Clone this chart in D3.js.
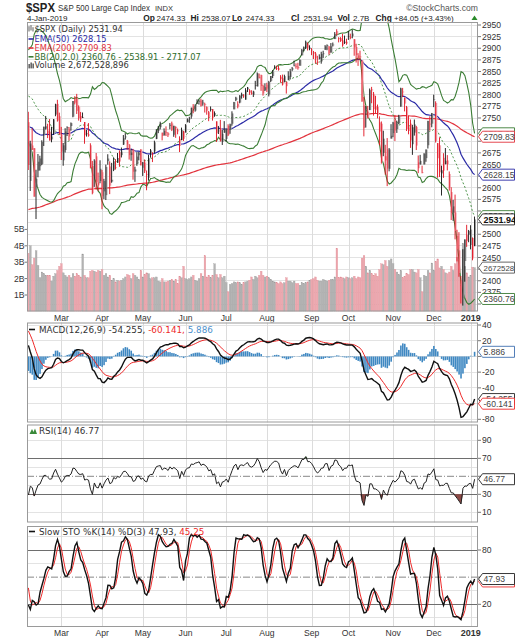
<!DOCTYPE html>
<html><head><meta charset="utf-8"><title>$SPX</title>
<script src="https://cdn.jsdelivr.net/npm/d3@7/dist/d3.min.js"></script>
<style>html,body{margin:0;padding:0;background:#fff}svg{display:block}</style>
</head><body>
<svg id="chart" width="515" height="640"></svg>
<script>
// ---------------- DATA ----------------
const tradingMonths = ["2018-02","2018-03","2018-04","2018-05","2018-06","2018-07","2018-08","2018-09","2018-10","2018-11","2018-12","2019-01"];
const tradingDays = [
 [5,6,7,8,9,12,13,14,15,16,20,21,22,23,26,27,28],
 [1,2,5,6,7,8,9,12,13,14,15,16,19,20,21,22,23,26,27,28,29],
 [2,3,4,5,6,9,10,11,12,13,16,17,18,19,20,23,24,25,26,27,30],
 [1,2,3,4,7,8,9,10,11,14,15,16,17,18,21,22,23,24,25,29,30,31],
 [1,4,5,6,7,8,11,12,13,14,15,18,19,20,21,22,25,26,27,28,29],
 [2,3,5,6,9,10,11,12,13,16,17,18,19,20,23,24,25,26,27,30,31],
 [1,2,3,6,7,8,9,10,13,14,15,16,17,20,21,22,23,24,27,28,29,30,31],
 [4,5,6,7,10,11,12,13,14,17,18,19,20,21,24,25,26,27,28],
 [1,2,3,4,5,8,9,10,11,12,15,16,17,18,19,22,23,24,25,26,29,30,31],
 [1,2,5,6,7,8,9,12,13,14,15,16,19,20,21,23,26,27,28,29,30],
 [3,4,6,7,10,11,12,13,14,17,18,19,20,21,24,26,27,28,31],
 [2,3,4]
];
const monthLabels = ["Mar","Apr","May","Jun","Jul","Aug","Sep","Oct","Nov","Dec","2019"];

const open = [
2741.06,2614.78,2690.95,2685.01,2601.78,2636.75,2646.27,2651.21,2713.46,2727.14,2722.99,2720.53,2710.42,2715.80,2757.37,2780.45,2753.78,
2715.22,2658.89,2681.06,2730.18,2710.18,2732.75,2752.91,2790.54,2792.31,2774.06,2754.27,2750.57,2741.38,2715.05,2714.99,2691.36,2646.71,2619.35,2667.57,2611.30,2614.41,
2633.45,2592.17,2584.04,2657.36,2645.82,2617.18,2638.41,2643.89,2653.83,2676.90,2670.10,2692.74,2710.11,2701.16,2692.56,2675.40,2680.80,2634.92,2651.65,2675.47,2682.51,
2642.96,2654.24,2628.08,2621.45,2680.34,2670.26,2678.12,2705.02,2722.70,2738.47,2718.59,2712.62,2719.71,2717.35,2735.39,2738.34,2713.98,2730.94,2723.60,2705.11,2702.43,2720.98,
2718.70,2741.67,2748.46,2753.25,2774.84,2765.84,2780.18,2785.60,2787.94,2783.21,2777.78,2765.79,2752.01,2769.73,2769.28,2760.79,2742.94,2722.12,2728.45,2698.69,2727.13,
2704.95,2733.27,2724.19,2737.68,2768.51,2788.56,2779.82,2783.14,2796.93,2797.36,2789.34,2811.35,2809.37,2804.55,2799.17,2820.68,2817.73,2835.49,2842.35,2819.00,2809.73,
2821.17,2800.48,2829.62,2840.29,2855.92,2856.79,2857.19,2838.90,2835.46,2827.88,2827.95,2831.44,2838.32,2853.93,2861.51,2860.99,2860.29,2862.35,2884.69,2901.45,2900.62,2908.94,2898.37,
2896.96,2891.59,2888.64,2868.26,2881.39,2871.57,2888.29,2896.85,2906.38,2903.83,2890.74,2906.60,2919.73,2936.76,2921.83,2921.75,2916.98,2911.65,2910.03,
2926.29,2923.80,2931.69,2919.35,2902.54,2877.53,2882.51,2873.90,2776.87,2770.54,2763.83,2767.05,2811.67,2802.00,2775.66,2773.94,2721.03,2737.87,2674.88,2667.86,2682.65,2640.68,2705.60,
2717.58,2745.45,2726.37,2738.40,2774.13,2806.38,2794.10,2773.93,2730.05,2737.90,2693.52,2718.54,2730.74,2654.60,2657.74,2633.36,2649.97,2663.75,2691.45,2736.97,2737.76,
2790.50,2782.43,2663.51,2691.26,2630.86,2664.44,2658.23,2658.70,2629.68,2590.75,2559.90,2547.05,2496.77,2465.38,2400.56,2363.12,2442.50,2498.77,2498.94,
2476.96,2491.92,2474.33];
const high = [
2763.39,2701.04,2727.67,2685.27,2638.67,2672.61,2668.84,2702.10,2731.51,2754.42,2737.60,2747.75,2731.26,2747.76,2780.64,2789.15,2761.52,
2730.89,2696.25,2728.09,2732.08,2730.60,2740.45,2786.57,2796.98,2801.90,2777.11,2763.03,2761.85,2741.38,2724.22,2739.14,2695.68,2657.67,2661.36,2674.78,2632.65,2659.07,
2638.30,2619.14,2649.86,2672.08,2656.88,2653.55,2665.45,2661.43,2674.72,2680.26,2686.49,2713.34,2717.49,2702.84,2693.94,2682.86,2683.55,2645.30,2676.48,2677.35,2682.87,
2655.27,2660.87,2637.14,2670.93,2683.35,2676.34,2701.27,2726.11,2732.86,2742.10,2718.59,2727.76,2731.96,2719.50,2739.19,2742.24,2733.33,2731.97,2727.36,2710.67,2729.34,2722.50,
2736.93,2749.16,2752.61,2772.39,2779.90,2779.39,2790.21,2789.80,2791.47,2789.06,2782.81,2774.99,2765.05,2774.86,2769.28,2764.17,2742.94,2732.91,2746.09,2724.34,2743.26,
2727.26,2736.58,2737.83,2764.41,2784.65,2795.58,2785.91,2799.22,2804.53,2801.19,2814.19,2816.76,2812.05,2809.70,2808.61,2829.99,2848.03,2845.57,2843.17,2821.74,2824.46,
2825.83,2829.91,2840.38,2853.29,2863.43,2862.44,2862.48,2842.20,2843.40,2843.11,2827.95,2850.49,2855.63,2859.76,2873.23,2867.54,2868.78,2876.16,2898.25,2903.77,2916.50,2912.46,2906.32,
2900.18,2894.21,2892.05,2883.81,2886.93,2892.52,2894.65,2906.76,2908.30,2904.65,2911.17,2912.36,2934.80,2940.91,2923.79,2923.95,2931.15,2927.22,2920.53,
2937.06,2931.42,2939.86,2919.78,2909.64,2889.45,2894.83,2874.02,2795.14,2775.77,2775.99,2813.46,2816.94,2806.04,2797.77,2778.94,2753.59,2742.59,2722.70,2692.38,2706.85,2685.43,2736.69,
2741.67,2756.55,2744.27,2756.82,2815.15,2814.75,2794.10,2775.99,2754.60,2746.80,2735.38,2746.75,2733.16,2669.44,2670.73,2647.55,2674.35,2682.53,2744.00,2753.75,2760.88,
2800.18,2785.93,2696.15,2708.54,2647.51,2674.35,2685.44,2670.19,2635.07,2601.13,2573.99,2585.29,2509.63,2504.41,2410.34,2467.76,2489.10,2520.27,2509.24,
2519.49,2493.14,2538.07];
const low = [
2638.17,2593.07,2681.33,2580.56,2532.69,2622.45,2637.08,2648.87,2689.82,2725.11,2706.76,2701.29,2697.77,2713.74,2753.78,2742.19,2713.54,
2659.65,2647.32,2675.75,2711.26,2701.74,2722.65,2751.54,2779.26,2758.68,2744.38,2741.47,2749.97,2694.59,2710.05,2709.79,2641.59,2585.89,2601.81,2596.12,2593.06,2609.72,
2553.80,2575.49,2573.61,2649.58,2586.27,2610.79,2635.78,2639.25,2653.83,2645.05,2665.16,2692.05,2703.63,2681.90,2660.61,2657.99,2617.32,2612.67,2647.16,2659.01,2648.04,
2625.41,2631.70,2594.62,2615.32,2664.70,2655.20,2674.14,2704.54,2717.45,2725.47,2701.91,2712.17,2711.36,2709.18,2725.70,2721.88,2709.54,2707.38,2714.99,2676.81,2702.43,2700.68,
2718.70,2740.54,2739.51,2748.46,2760.16,2763.59,2780.17,2778.78,2774.65,2776.52,2761.73,2757.12,2743.19,2763.91,2744.39,2752.68,2698.67,2715.60,2699.38,2691.99,2718.03,
2698.95,2711.16,2716.02,2733.52,2768.51,2786.24,2770.77,2781.53,2791.69,2793.39,2789.24,2805.89,2799.77,2800.01,2795.14,2811.12,2817.73,2835.26,2808.34,2798.11,2808.06,
2805.85,2796.34,2827.37,2835.98,2855.92,2853.09,2851.98,2825.81,2819.88,2826.58,2802.49,2831.44,2833.73,2850.62,2861.32,2856.05,2854.03,2862.35,2884.69,2893.50,2898.40,2895.22,2895.77,
2885.13,2876.92,2867.29,2864.12,2875.94,2866.78,2879.20,2896.39,2895.77,2886.16,2890.43,2903.82,2919.73,2927.11,2912.63,2913.70,2903.28,2909.27,2907.50,
2917.91,2919.37,2921.36,2883.92,2869.29,2862.08,2874.27,2784.86,2710.51,2729.44,2749.03,2766.91,2781.81,2755.18,2760.27,2749.22,2691.43,2651.89,2667.84,2628.16,2603.54,2635.34,2705.60,
2708.85,2700.44,2717.94,2737.08,2774.13,2794.99,2764.24,2722.00,2714.98,2685.75,2670.75,2712.16,2681.09,2631.52,2649.82,2631.09,2649.97,2655.89,2684.38,2722.94,2730.05,
2773.38,2697.18,2621.53,2623.14,2583.23,2621.30,2650.26,2637.27,2593.84,2530.54,2528.71,2488.96,2441.53,2408.55,2351.10,2346.58,2397.94,2472.89,2482.82,
2467.47,2443.96,2474.33];
const close = [
2648.94,2695.14,2681.66,2581.00,2619.55,2656.00,2662.94,2698.63,2731.20,2732.22,2716.26,2701.33,2703.96,2747.30,2779.60,2744.28,2713.83,
2677.67,2691.25,2720.94,2728.12,2726.80,2738.97,2786.57,2783.02,2765.31,2749.48,2747.33,2752.01,2712.92,2716.94,2711.93,2643.69,2588.26,2658.55,2612.62,2605.00,2640.87,
2581.88,2614.45,2644.69,2662.84,2604.47,2613.16,2656.87,2642.19,2663.99,2656.30,2677.84,2706.39,2708.64,2693.13,2670.14,2670.29,2634.56,2639.40,2666.94,2669.91,2648.05,
2654.80,2635.67,2629.73,2663.42,2672.63,2671.92,2697.79,2723.07,2727.72,2730.13,2711.45,2722.46,2720.13,2712.97,2733.01,2724.44,2733.29,2727.76,2721.33,2689.86,2724.01,2705.27,
2734.62,2746.87,2748.80,2772.35,2770.37,2779.03,2782.00,2786.85,2775.63,2782.49,2779.66,2773.75,2762.59,2767.32,2749.76,2754.88,2717.07,2723.06,2699.63,2716.31,2718.37,
2726.71,2713.22,2736.61,2759.82,2784.17,2793.84,2774.02,2798.29,2801.31,2798.43,2809.55,2815.62,2804.49,2801.83,2806.98,2820.40,2846.07,2837.44,2818.82,2802.60,2816.29,
2813.36,2827.22,2840.35,2850.40,2858.45,2857.70,2853.58,2833.28,2821.93,2839.96,2818.37,2840.69,2850.13,2857.05,2862.96,2861.82,2856.98,2874.69,2896.74,2897.52,2914.04,2901.13,2901.52,
2896.72,2888.60,2878.05,2871.68,2877.13,2887.89,2888.92,2904.18,2904.98,2888.80,2904.31,2907.95,2930.75,2929.67,2919.37,2915.56,2905.97,2914.00,2913.98,
2924.59,2923.43,2925.51,2901.61,2885.57,2884.43,2880.34,2785.68,2728.37,2767.13,2750.79,2809.92,2809.21,2768.78,2767.78,2755.88,2740.69,2656.10,2705.57,2658.69,2641.25,2682.63,2711.74,
2740.37,2723.06,2738.31,2755.45,2813.89,2806.83,2781.01,2726.22,2722.18,2701.58,2730.20,2736.27,2690.73,2641.89,2649.93,2632.56,2673.45,2682.17,2743.79,2737.80,2760.17,
2790.37,2700.06,2695.95,2633.08,2637.72,2636.78,2651.07,2650.54,2599.95,2545.94,2546.16,2506.96,2467.42,2416.62,2351.10,2467.70,2488.83,2485.74,2506.85,
2510.03,2447.89,2531.94];
// volume, billions of shares
const volumeB = [
3.55,4.0,2.85,3.25,3.7,2.8,2.05,2.4,2.3,2.2,2.2,2.2,1.85,2.15,2.3,2.5,2.75,
2.9,2.35,2.2,2.1,2.2,2.05,2.3,2.15,2.3,2.2,2.1,3.5,2.2,2.05,2.05,2.45,2.5,2.45,2.4,2.5,2.45,
2.55,2.2,2.3,2.1,2.2,1.9,2.0,1.8,1.9,1.85,1.9,2.0,2.1,2.25,2.2,2.0,2.3,2.2,2.1,1.95,2.5,
2.1,2.25,2.35,2.3,2.0,2.05,2.05,2.1,1.85,1.8,2.0,1.8,1.8,1.85,1.9,1.95,1.85,1.95,1.7,2.15,2.05,2.75,
2.0,1.95,2.0,2.1,2.2,1.9,1.85,2.0,2.3,2.15,3.4,2.1,2.2,2.05,2.2,2.9,2.25,2.05,2.25,2.05,2.15,
1.75,1.2,1.65,1.7,1.8,1.75,1.8,1.75,1.65,1.75,1.8,1.85,1.9,2.1,1.95,2.15,2.05,2.2,2.45,2.2,2.1,
2.15,2.05,1.95,1.85,1.8,1.75,1.7,1.8,1.7,1.75,2.05,1.85,1.85,1.75,1.85,1.7,1.7,1.6,1.75,1.7,1.75,1.8,1.9,
1.95,2.0,2.1,1.9,1.85,1.85,1.95,1.9,1.85,1.9,1.95,1.95,2.1,3.85,2.05,2.1,2.05,2.0,2.1,
2.05,2.0,2.05,2.15,2.0,2.1,2.05,3.25,3.4,2.75,2.35,2.5,2.3,2.2,2.3,2.15,2.55,2.9,2.85,3.1,2.75,3.1,3.2,
2.9,2.55,2.4,2.25,2.5,2.05,2.15,2.3,2.25,2.55,2.55,2.4,2.35,2.55,2.05,1.2,2.2,2.15,2.5,2.35,2.95,
2.5,3.05,3.2,2.65,2.75,2.55,2.35,2.3,2.4,2.75,2.5,2.9,3.3,3.1,1.6,4.15,2.75,2.35,2.1,
2.2,2.7,2.67];
// history before the first drawn bar (Dec 1 2017 .. Feb 2 2018), used only to start the indicators
const preClose = [2642.22,2639.44,2629.57,2629.27,2636.98,2651.50,2659.99,2664.11,2662.85,2652.01,2675.81,2690.16,2681.47,2679.25,2684.57,2683.34,2680.50,2682.62,2687.54,2673.61,
 2695.81,2713.06,2723.99,2743.15,2747.71,2751.29,2748.23,2767.56,2786.24,2776.42,2802.56,2798.03,2810.30,2832.97,2839.13,2837.54,2839.25,2872.87,2853.53,2822.43,2823.81,2821.98,2762.13];
const preHigh = [2750.80,2767.56,2787.85,2807.54,2807.04,2805.83,2810.33,2833.03,2842.24,2852.97,2848.56,2872.87,2870.62,2837.75,2839.26,2835.96,2808.92];
const preLow  = [2736.06,2752.78,2769.64,2768.64,2778.38,2792.56,2798.08,2808.12,2830.59,2824.81,2830.94,2846.18,2851.48,2818.27,2813.04,2812.70,2759.97];
const emaStart = {ema50: 2735, ema200: 2552};   // moving-average levels at the left edge

const priceTicks = d3.range(2350, 2951, 25);
const volTicks = [1,2,3,4,5];
const macdTicks = [40,20,0,-20,-40,-60,-80];
const rsiTicks = [90,70,50,30,10];
const stoTicks = [80,50,20];

// ---------------- INDICATORS ----------------
const N = close.length, N0 = preClose.length;
const allC = preClose.concat(close);
function emaFrom(vals, n, seed){ const a=2/(n+1); let e=seed; return vals.map(v=>(e=e+a*(v-e))); }
const ema50 = emaFrom(close, 50, emaStart.ema50);
const ema200 = emaFrom(close, 200, emaStart.ema200);
const e12 = emaFrom(allC, 12, allC[0]), e26 = emaFrom(allC, 26, allC[0]);
const macdAll = e12.map((v,i)=>v-e26[i]);
const sigAll = emaFrom(macdAll, 9, 0);
const macd = macdAll.slice(N0), signal = sigAll.slice(N0), hist = macd.map((v,i)=>v-signal[i]);
const bbMid=[], bbUp=[], bbLo=[];
for(let i=0;i<N;i++){ const w=allC.slice(N0+i-19,N0+i+1); const m=d3.mean(w); const sd=Math.sqrt(d3.mean(w,v=>(v-m)*(v-m))); bbMid.push(m); bbUp.push(m+2*sd); bbLo.push(m-2*sd); }
let ag=0, al=0;
for(let k=1;k<=14;k++){ const d=allC[k]-allC[k-1]; if(d>0) ag+=d; else al-=d; }
ag/=14; al/=14;
const rsiAll=[]; rsiAll[14]=100-100/(1+ag/al);
for(let k=15;k<allC.length;k++){ const d=allC[k]-allC[k-1]; ag=(ag*13+Math.max(d,0))/14; al=(al*13+Math.max(-d,0))/14; rsiAll[k]=100-100/(1+ag/al); }
const rsi = rsiAll.slice(N0);
const K0 = preHigh.length;
const sH = preHigh.concat(high), sL = preLow.concat(low), sC = preClose.slice(N0-K0).concat(close);
const fastK = sC.map((c,j)=>{ if(j<13) return null; const hh=d3.max(sH.slice(j-13,j+1)), ll=d3.min(sL.slice(j-13,j+1)); return (c-ll)/(hh-ll)*100; });
const slowKAll = fastK.map((v,j)=> j<15?null:(fastK[j]+fastK[j-1]+fastK[j-2])/3);
const dAll = slowKAll.map((v,j)=> j<17?null:(slowKAll[j]+slowKAll[j-1]+slowKAll[j-2])/3);
const stoK = slowKAll.slice(K0), stoD = dAll.slice(K0);
const prevClose = close.map((c,i)=> i===0? preClose[N0-1] : close[i-1]);
const up = close.map((c,i)=> c>=prevClose[i]);

const monthStarts=[]; { let idx=0; tradingDays.forEach((m,k)=>{ if(k>0) monthStarts.push(idx); idx+=m.length; }); }

// ---------------- LAYOUT ----------------
const svg = d3.select("#chart");
const AF = "'Liberation Sans', Arial, sans-serif";
const LF = "'DejaVu Sans', Verdana, sans-serif";
const L=27, R=478;
const x = d3.scaleLinear().domain([0, N-1]).range([28.4, 474.6]);
const PP={top:22,bot:311.5}, PM={top:322.5,bot:422.5}, PR={top:424.5,bot:522.5}, PS={top:526,bot:627};
const yP = d3.scaleLinear().domain([2350,2950]).range([304,25]);
const yV = d3.scaleLinear().domain([0,5]).range([311.4,229.4]);
const yM = d3.scaleLinear().domain([-80,40]).range([419.3,325]);
const yR = d3.scaleLinear().domain([30,70]).range([494.3,458.3]);
const yS = d3.scaleLinear().domain([20,80]).range([604.3,550]);
const defs = svg.append("defs");
function clipFor(id,p){ defs.append("clipPath").attr("id",id).append("rect").attr("x",L).attr("y",p.top).attr("width",R-L).attr("height",p.bot-p.top); return `url(#${id})`; }
function hgrid(p, vals, ys, col){ svg.append("g").selectAll("line").data(vals).join("line").attr("x1",L).attr("x2",R).attr("y1",d=>ys(d)).attr("y2",d=>ys(d)).attr("stroke",col||"#e3e3e3").attr("shape-rendering","crispEdges"); }
function vgrid(p){ svg.append("g").selectAll("line").data(monthStarts).join("line").attr("x1",d=>Math.round(x(d))+0.5).attr("x2",d=>Math.round(x(d))+0.5).attr("y1",p.top).attr("y2",p.bot).attr("stroke","#dcdcdc"); }
function frame(p){ svg.append("rect").attr("x",L+0.5).attr("y",p.top+0.5).attr("width",R-L-1).attr("height",p.bot-p.top-1).attr("fill","none").attr("stroke","#9a9a9a"); }
// right axis: labels fully hidden under a value box are left out
function rightAxis(vals, ys, boxYs){ const g=svg.append("g"); vals.forEach(v=>{ const y=ys(v);
  g.append("line").attr("x1",R).attr("x2",R+3).attr("y1",y).attr("y2",y).attr("stroke","#777");
  if(boxYs.some(b=>Math.abs(b-y)<6)) return;
  g.append("text").attr("x",R+4).attr("y",y+3).attr("font-family",AF).attr("font-size",8.6).attr("fill","#333").text(v); }); }
function vbox(y, txt, stroke, opt){ opt=opt||{}; const g=svg.append("g");
  g.append("path").attr("d",`M${R+0.5},${y} L${R+4.5},${y-5.5} L514.5,${y-5.5} L514.5,${y+5.5} L${R+4.5},${y+5.5} Z`).attr("fill","#fff").attr("stroke",stroke).attr("stroke-width",0.9);
  g.append("text").attr("x",R+5.5).attr("y",y+3.2).attr("font-family",AF).attr("font-size",opt.size||8.6).attr("font-weight",opt.bold?"bold":"normal").attr("fill",opt.col||"#444").text(txt); }
const line = (ys, arr) => d3.line().defined(d=>d!=null).x((d,i)=>x(i)).y(d=>ys(d))(arr);

// ---------------- HEADER ----------------
svg.append("text").attr("x",26).attr("y",11.5).attr("font-family",AF).attr("font-size",12.5).attr("font-weight","bold").attr("fill","#222").attr("textLength",29).attr("lengthAdjust","spacingAndGlyphs").text("$SPX");
svg.append("text").attr("x",58).attr("y",11).attr("font-family",AF).attr("font-size",9).attr("fill","#333").attr("textLength",92).attr("lengthAdjust","spacingAndGlyphs").text("S&P 500 Large Cap Index");
svg.append("text").attr("x",155).attr("y",11).attr("font-family",AF).attr("font-size",7.5).attr("fill","#333").text("INDX");
svg.append("text").attr("x",478).attr("y",10.5).attr("text-anchor","end").attr("font-family",AF).attr("font-size",8.6).attr("fill","#555").text("©StockCharts.com");
const hdr=[["4-Jan-2019",27,false],["Op",143.3,true],["2474.33",156.5,false],["Hi",190.5,true],["2538.07",201.5,false],["Lo",232,true],["2474.33",245.5,false],["Cl",291,true],["2531.94",303.5,false],["Vol",337.5,true],["2.7B",353,false],["Chg",375.5,true],["+84.05 (+3.43%)",394,false]];
hdr.forEach(h=>svg.append("text").attr("x",h[1]).attr("y",21).attr("font-family",AF).attr("font-size",h[2]?8.4:8).attr("font-weight",h[2]?"bold":"normal").attr("fill","#222").text(h[0]));
svg.append("path").attr("d","M471.5,20 L474.5,15.5 L477.5,20 Z").attr("fill","#2a8a2a");

// ---------------- PRICE PANEL ----------------
svg.append("rect").attr("x",L).attr("y",PP.top).attr("width",R-L).attr("height",PP.bot-PP.top).attr("fill","#fff");
hgrid(PP, priceTicks, yP);
vgrid(PP);
const gP = svg.append("g").attr("clip-path",clipFor("cp",PP));
gP.selectAll("rect.vol").data(volumeB).join("rect").attr("class","vol")
 .attr("x",(d,i)=>x(i)-0.85).attr("width",1.7).attr("y",d=>yV(d)).attr("height",d=>yV(0)-yV(d))
 .attr("fill",(d,i)=>up[i]?"#b3b3b3":"#eca7ae").attr("stroke",(d,i)=>up[i]?"#9a9a9a":"#e08d96").attr("stroke-width",0.3);
gP.append("path").attr("d",line(yP,ema200)).attr("fill","none").attr("stroke","#e2333d").attr("stroke-width",1.2);
gP.append("path").attr("d",line(yP,ema50)).attr("fill","none").attr("stroke","#2b2ba6").attr("stroke-width",1.2);
gP.append("path").attr("d",line(yP,bbUp)).attr("fill","none").attr("stroke","#3b7d35").attr("stroke-width",1.1);
gP.append("path").attr("d",line(yP,bbLo)).attr("fill","none").attr("stroke","#3b7d35").attr("stroke-width",1.1);
gP.append("path").attr("d",line(yP,bbMid)).attr("fill","none").attr("stroke","#4d944a").attr("stroke-width",1).attr("stroke-dasharray","2,2");
const bars = gP.append("g");
close.forEach((c,i)=>{
  const xi=x(i), t=Math.min(open[i],c), b=Math.max(open[i],c);
  bars.append("rect").attr("x",xi-0.2).attr("width",1.6).attr("y",yP(b)).attr("height",Math.max(0.8,yP(t)-yP(b))).attr("fill",up[i]?"#9c9c9c":"#f2a3ab");
  bars.append("rect").attr("x",xi-0.6).attr("width",0.9).attr("y",yP(high[i])).attr("height",yP(low[i])-yP(high[i])).attr("fill",up[i]?"#111":"#e0101e");
});
frame(PP);
const lg = [["$SPX (Daily) 2531.94","#333",32.3,null],["EMA(50) 2628.15","#2b2ba6",41.8,"#2b2ba6"],["EMA(200) 2709.83","#e2333d",50.8,"#e2333d"],["BB(20,2.0) 2360.76 - 2538.91 - 2717.07","#2f6d2b",59.6,"#3b7d35"],["Volume 2,672,528,896","#333",68.4,null]];
lg.forEach(l=>{ if(l[3]) svg.append("line").attr("x1",28.5).attr("x2",33.5).attr("y1",l[2]-2.8).attr("y2",l[2]-2.8).attr("stroke",l[3]).attr("stroke-width",1.6);
  svg.append("text").attr("x",34.5).attr("y",l[2]).attr("font-family",LF).attr("font-size",8.3).attr("fill",l[1]).text(l[0]); });
[[29,26.2,31.5],[31,25.2,30.5],[33,27.2,31.5]].forEach(b=>svg.append("line").attr("x1",b[0]).attr("x2",b[0]).attr("y1",b[1]).attr("y2",b[2]).attr("stroke","#333").attr("stroke-width",0.8));
[[28.5,64],[30.5,62.5],[32.5,63.5]].forEach(b=>svg.append("rect").attr("x",b[0]).attr("y",b[1]).attr("width",1.3).attr("height",68.4-b[1]).attr("fill","#444"));
const priceBoxes = [yP(bbUp[N-1]), yP(ema200[N-1]), yP(ema50[N-1]), yP(bbMid[N-1]), yP(close[N-1]), yV(volumeB[N-1]), yP(bbLo[N-1])];
rightAxis(priceTicks, yP, priceBoxes);
volTicks.forEach(v=>{ svg.append("text").attr("x",24.5).attr("y",yV(v)+3).attr("text-anchor","end").attr("font-family",AF).attr("font-size",8.6).attr("fill","#333").text(v+"B");
  svg.append("line").attr("x1",24.5).attr("x2",L).attr("y1",yV(v)).attr("y2",yV(v)).attr("stroke","#777"); });
vbox(priceBoxes[0],"2717.07","#3b7d35");
vbox(priceBoxes[1],"2709.83","#e2333d");
vbox(priceBoxes[2],"2628.15","#2b2ba6");
vbox(priceBoxes[3],"2538.91","#3b7d35");
vbox(priceBoxes[4],"2531.94","#222",{bold:true,col:"#111",size:9});
vbox(priceBoxes[5],"2672528","#555",{size:7.9});
vbox(priceBoxes[6],"2360.76","#3b7d35");
function monthAxis(yb){ monthStarts.forEach((m,k)=> svg.append("text").attr("x",x(m)).attr("y",yb).attr("text-anchor","middle").attr("font-family",AF).attr("font-size",k===10?9:8.6).attr("font-weight",k===10?"bold":"normal").attr("fill","#333").text(monthLabels[k])); }
monthAxis(320.6);

// ---------------- MACD PANEL ----------------
svg.append("rect").attr("x",L).attr("y",PM.top).attr("width",R-L).attr("height",PM.bot-PM.top).attr("fill","#fff");
hgrid(PM, macdTicks, yM);
vgrid(PM);
const gM = svg.append("g").attr("clip-path",clipFor("cm",PM));
gM.selectAll("rect").data(hist).join("rect").attr("x",(d,i)=>x(i)-0.8).attr("width",1.6).attr("y",d=>yM(Math.max(0,d))).attr("height",d=>Math.abs(yM(d)-yM(0))).attr("fill","#3f88c2");
gM.append("path").attr("d",line(yM,signal)).attr("fill","none").attr("stroke","#ee2a2a").attr("stroke-width",1);
gM.append("path").attr("d",line(yM,macd)).attr("fill","none").attr("stroke","#111").attr("stroke-width",1.4);
frame(PM);
svg.append("line").attr("x1",29).attr("x2",35).attr("y1",329.5).attr("y2",329.5).attr("stroke","#111").attr("stroke-width",1.6);
const tM = svg.append("text").attr("x",39).attr("y",332.5).attr("font-family",LF).attr("font-size",8.8);
tM.append("tspan").attr("fill","#333").text("MACD(12,26,9) -54.255,");
tM.append("tspan").attr("fill","#ee2a2a").text(" -60.141,");
tM.append("tspan").attr("fill","#4d90cc").text(" 5.886");
const macdBoxes=[yM(hist[N-1]), yM(macd[N-1]), yM(signal[N-1])];
rightAxis(macdTicks, yM, macdBoxes);
vbox(macdBoxes[0],"5.886","#3f6fb0");
vbox(macdBoxes[1],"-54.255","#222");
vbox(macdBoxes[2],"-60.141","#ee2a2a");

// ---------------- RSI PANEL ----------------
svg.append("rect").attr("x",L).attr("y",PR.top).attr("width",R-L).attr("height",PR.bot-PR.top).attr("fill","#fff");
hgrid(PR, [10,40,60,90], yR);
vgrid(PR);
hgrid(PR, [70,30], yR, "#6e6e6e");
svg.append("line").attr("x1",L).attr("x2",R).attr("y1",yR(50)).attr("y2",yR(50)).attr("stroke","#888").attr("stroke-dasharray","7,2,1,2");
const gR = svg.append("g").attr("clip-path",clipFor("cr",PR));
gR.append("path").attr("d",d3.area().x((d,i)=>x(i)).y0(yR(30)).y1(d=>yR(Math.min(d,30)))(rsi)).attr("fill","#8c4a46");
gR.append("path").attr("d",d3.area().x((d,i)=>x(i)).y0(yR(70)).y1(d=>yR(Math.max(d,70)))(rsi)).attr("fill","#4f8a48");
gR.append("path").attr("d",line(yR,rsi)).attr("fill","none").attr("stroke","#222").attr("stroke-width",1);
frame(PR);
svg.append("path").attr("d","M29.5,434 L32,429 L33.5,432 L35,428.5 L37,434 Z").attr("fill","#3a8a3a");
svg.append("text").attr("x",39).attr("y",433.8).attr("font-family",LF).attr("font-size",8.8).attr("fill","#333").text("RSI(14) 46.77");
const rsiBoxes=[yR(rsi[N-1])];
rightAxis(rsiTicks, yR, rsiBoxes);
vbox(rsiBoxes[0],"46.77","#222");

// ---------------- STO PANEL ----------------
svg.append("rect").attr("x",L).attr("y",PS.top).attr("width",R-L).attr("height",PS.bot-PS.top).attr("fill","#fff");
hgrid(PS, [5,35,65,95], yS);
vgrid(PS);
hgrid(PS, [80,20], yS, "#6e6e6e");
svg.append("line").attr("x1",L).attr("x2",R).attr("y1",yS(50)).attr("y2",yS(50)).attr("stroke","#888").attr("stroke-dasharray","7,2,1,2");
const gS = svg.append("g").attr("clip-path",clipFor("cs",PS));
gS.append("path").attr("d",line(yS,stoD)).attr("fill","none").attr("stroke","#ee2a2a").attr("stroke-width",1);
gS.append("path").attr("d",line(yS,stoK)).attr("fill","none").attr("stroke","#111").attr("stroke-width",1.4);
frame(PS);
svg.append("line").attr("x1",29).attr("x2",35).attr("y1",531.5).attr("y2",531.5).attr("stroke","#111").attr("stroke-width",1.6);
const tS = svg.append("text").attr("x",39).attr("y",534.5).attr("font-family",LF).attr("font-size",8.8);
tS.append("tspan").attr("fill","#333").text("Slow STO %K(14) %D(3) 47.93,");
tS.append("tspan").attr("fill","#ee2a2a").text(" 45.25");
const stoBoxes=[yS(stoD[N-1]), yS(stoK[N-1])];
rightAxis(stoTicks, yS, stoBoxes);
vbox(stoBoxes[0],"45.25","#ee2a2a");
vbox(stoBoxes[1],"47.93","#222");
monthAxis(636.3);
</script></body></html>
